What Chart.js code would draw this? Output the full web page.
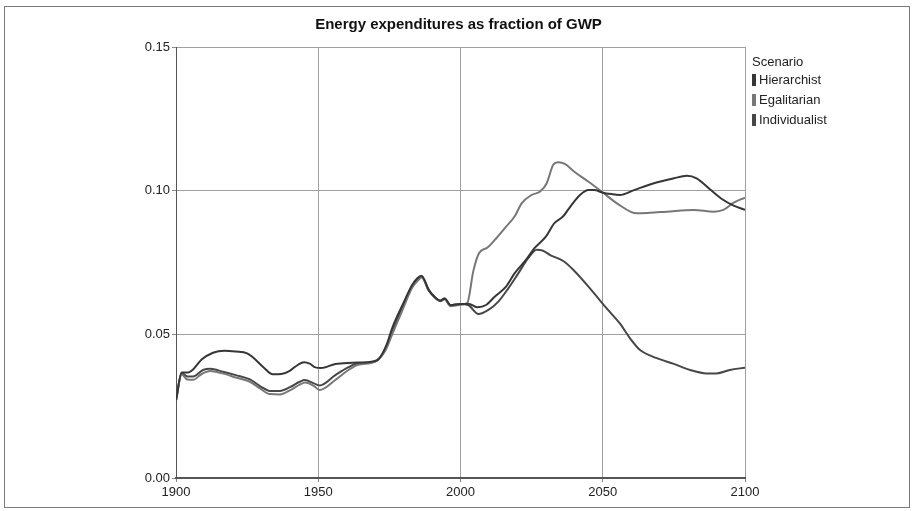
<!DOCTYPE html>
<html>
<head>
<meta charset="utf-8">
<script src="https://cdn.jsdelivr.net/npm/chart.js@4.4.1/dist/chart.umd.min.js"></script>
<style>
  html, body { margin: 0; padding: 0; background: #fff; }
  #wrap { position: relative; width: 914px; height: 511px; }
  #frame { position: absolute; left: 4px; top: 6px; width: 904px; height: 500px; border: 1px solid #7a7a7a; box-sizing: content-box; }
  canvas { position: absolute; left: 0; top: 0; }
</style>
</head>
<body>
<div id="wrap">
  <div id="frame"></div>
  <canvas id="c" width="914" height="511"></canvas>
</div>
<script>
// Energy expenditures as a share of gross world product, three scenarios
const chartTitle = 'Energy expenditures as fraction of GWP';
const legendTitle = 'Scenario';

const yTicks = [0, 0.05, 0.10, 0.15];
const xTicks = [1900, 1950, 2000, 2050, 2100];

const hierarchistYears = [1900, 1902, 1904, 1906, 1909, 1913, 1917, 1921, 1925, 1927, 1931, 1934, 1937, 1940, 1942, 1945, 1947, 1949, 1951, 1956, 1962, 1968, 1971, 1974, 1976, 1980, 1983, 1985, 1986.3, 1989, 1991, 1993, 1994.5, 1996.5, 2000, 2003, 2006, 2009, 2012, 2016, 2019, 2023, 2026, 2030, 2033, 2036, 2039, 2042, 2045, 2047, 2050, 2053, 2056, 2061, 2068, 2075, 2079.5, 2083, 2088, 2092, 2096, 2100];
const hierarchistValues = [0.027, 0.0367, 0.0367, 0.0378, 0.0412, 0.0436, 0.0443, 0.0440, 0.0434, 0.0420, 0.0383, 0.0361, 0.0362, 0.0373, 0.0388, 0.0403, 0.0398, 0.0385, 0.0383, 0.0397, 0.0401, 0.0404, 0.0412, 0.0463, 0.0522, 0.0610, 0.0672, 0.0697, 0.0703, 0.0652, 0.0629, 0.0617, 0.0625, 0.0602, 0.0606, 0.0606, 0.0594, 0.0602, 0.0631, 0.0666, 0.0712, 0.0759, 0.0800, 0.0840, 0.0887, 0.0910, 0.0950, 0.0985, 0.1002, 0.1002, 0.0993, 0.0988, 0.0985, 0.1002, 0.1026, 0.1043, 0.1052, 0.1043, 0.1002, 0.0970, 0.0948, 0.0933];

const egalitarianYears = [1900, 1902, 1904, 1906, 1909, 1912, 1916, 1921, 1926, 1929.5, 1933, 1936.5, 1940, 1943.5, 1945.5, 1948.5, 1950.5, 1956, 1960.5, 1964, 1970, 1973.5, 1976, 1979.5, 1983, 1985.3, 1986.3, 1989, 1991, 1993, 1994.5, 1996.5, 2000, 2002.4, 2004.5, 2006.5, 2009.5, 2012, 2015.5, 2019, 2021.5, 2025, 2028, 2030.3, 2032.6, 2034.4, 2036.7, 2040, 2045, 2049.6, 2055, 2062, 2066.6, 2072.5, 2082, 2089, 2092.4, 2096, 2100];
const egalitarianValues = [0.027, 0.0360, 0.0343, 0.0342, 0.0362, 0.0372, 0.0365, 0.0350, 0.0335, 0.0312, 0.0292, 0.0291, 0.0305, 0.0325, 0.0332, 0.0320, 0.0306, 0.0341, 0.0375, 0.0394, 0.0405, 0.0442, 0.0500, 0.0582, 0.0662, 0.0690, 0.0698, 0.0652, 0.0627, 0.0615, 0.0622, 0.0598, 0.0603, 0.0610, 0.0720, 0.0782, 0.0802, 0.0828, 0.0869, 0.0910, 0.0956, 0.0985, 0.0997, 0.1026, 0.1090, 0.1099, 0.1093, 0.1066, 0.1031, 0.0997, 0.0956, 0.0921, 0.0923, 0.0927, 0.0933, 0.0927, 0.0933, 0.0958, 0.0976];

const individualistYears = [1900, 1902, 1904, 1906, 1909.5, 1912, 1916.5, 1921, 1926, 1929.5, 1933, 1936.5, 1940, 1943.5, 1945.3, 1948.3, 1950.5, 1956, 1960.5, 1964, 1970, 1973.5, 1975.8, 1979.3, 1982.8, 1985.2, 1986.3, 1988.7, 1991, 1992.8, 1994.3, 1996.3, 2000, 2002.7, 2006.3, 2009.8, 2013.3, 2016.8, 2020.3, 2023.8, 2026.8, 2029, 2031.5, 2036, 2039.7, 2045.5, 2051.4, 2056, 2059.6, 2063, 2069, 2075, 2080.7, 2086.5, 2090, 2094.7, 2100];
const individualistValues = [0.027, 0.0365, 0.0353, 0.0353, 0.0376, 0.0380, 0.0370, 0.0358, 0.0343, 0.0320, 0.0303, 0.0303, 0.0316, 0.0335, 0.0341, 0.0330, 0.0322, 0.0358, 0.0385, 0.0399, 0.0405, 0.0446, 0.0504, 0.0585, 0.0666, 0.0695, 0.0703, 0.0654, 0.0629, 0.0617, 0.0625, 0.0602, 0.0606, 0.0602, 0.0571, 0.0585, 0.0614, 0.0660, 0.0712, 0.0765, 0.0794, 0.0791, 0.0776, 0.0756, 0.0724, 0.0660, 0.0590, 0.0538, 0.0486, 0.0446, 0.0417, 0.0397, 0.0376, 0.0364, 0.0364, 0.0376, 0.0384];

const seriesNames = ['Hierarchist', 'Egalitarian', 'Individualist'];
const seriesColors = ['#363636', '#777777', '#474747'];

function toPoints(years, values) {
  return years.map((yr, i) => ({ x: yr, y: values[i] }));
}

const datasets = [
  [hierarchistYears, hierarchistValues],
  [egalitarianYears, egalitarianValues],
  [individualistYears, individualistValues]
].map(([yrs, vals], i) => ({
  label: seriesNames[i],
  data: toPoints(yrs, vals),
  borderColor: seriesColors[i],
  backgroundColor: seriesColors[i],
  borderWidth: 2,
  pointRadius: 0,
  cubicInterpolationMode: 'monotone',
  fill: false
}));

const FONT = '"Liberation Sans", Arial, sans-serif';

// Title above the plot and the scenario key on the right
const decorations = {
  id: 'decorations',
  afterDraw(chart) {
    const ctx = chart.ctx;
    const area = chart.chartArea;
    ctx.save();
    ctx.fillStyle = '#111';
    ctx.font = 'bold 15px "Liberation Sans Narrow", ' + FONT;
    ctx.textAlign = 'center';
    ctx.textBaseline = 'middle';
    ctx.fillText(chartTitle, (area.left + area.right) / 2 - 2, 25);

    const lx = area.right + 7;
    ctx.textAlign = 'left';
    ctx.font = '13px ' + FONT;
    ctx.fillStyle = '#222';
    ctx.fillText(legendTitle, lx, 62);
    chart.data.datasets.forEach((ds, i) => {
      const cy = 80 + i * 20;
      ctx.fillStyle = ds.borderColor;
      ctx.fillRect(lx, cy - 6, 4, 12);
      ctx.fillStyle = '#222';
      ctx.fillText(ds.label, lx + 7, cy);
    });
    ctx.restore();
  }
};

new Chart(document.getElementById('c'), {
  type: 'line',
  data: { datasets },
  plugins: [decorations],
  options: {
    responsive: false,
    animation: false,
    layout: { padding: { left: 0, right: 169, top: 47, bottom: 0 } },
    plugins: {
      legend: { display: false },
      title: { display: false },
      tooltip: { enabled: false }
    },
    scales: {
      x: {
        type: 'linear',
        min: 1900,
        max: 2100,
        afterFit(scale) { scale.height = 33; },
        afterBuildTicks(scale) { scale.ticks = xTicks.map(v => ({ value: v })); },
        ticks: {
          color: '#222',
          font: { family: FONT, size: 13 },
          padding: 3,
          maxRotation: 0,
          callback: v => String(v)
        },
        grid: { color: '#a0a0a0', lineWidth: 1, tickLength: 4, tickColor: '#888' },
        border: { color: '#555', width: 2 }
      },
      y: {
        type: 'linear',
        min: 0,
        max: 0.15,
        afterFit(scale) { scale.width = 176; },
        afterBuildTicks(scale) { scale.ticks = yTicks.map(v => ({ value: v })); },
        ticks: {
          color: '#222',
          font: { family: FONT, size: 13 },
          padding: 2,
          callback: v => v.toFixed(2)
        },
        grid: { color: '#a0a0a0', lineWidth: 1, tickLength: 4, tickColor: '#888' },
        border: { color: '#555', width: 1 }
      }
    }
  }
});
</script>
</body>
</html>
